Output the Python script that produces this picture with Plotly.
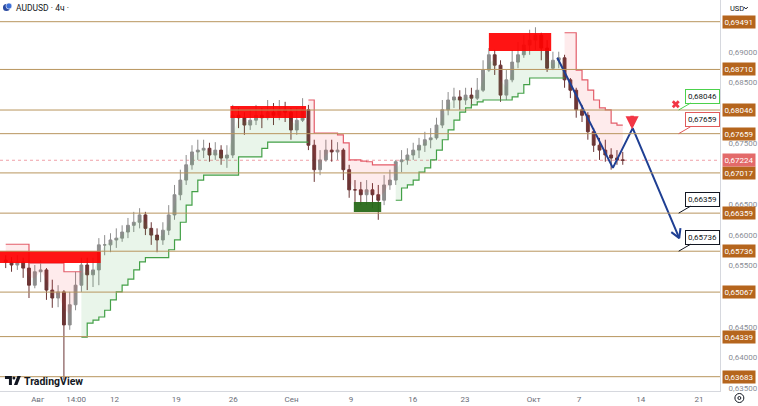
import math
import plotly.graph_objects as go

# ---------------- data (12h candles, index 0 = start of chart) ----------------
first_open = 0.6559
close = [0.6556, 0.6551, 0.6556, 0.6546, 0.6518, 0.6540, 0.6543, 0.6510, 0.6497, 0.6507,
         0.6453, 0.6486, 0.6518, 0.6551, 0.6535, 0.6543, 0.6584, 0.6584, 0.6592, 0.6595,
         0.6605, 0.6616, 0.6621, 0.6633, 0.6611, 0.6600, 0.6592, 0.6608, 0.6633, 0.6666,
         0.6690, 0.6715, 0.6736, 0.6739, 0.6742, 0.6731, 0.6739, 0.6726, 0.6731, 0.6796,
         0.6792, 0.6780, 0.6788, 0.6796, 0.6792, 0.6801, 0.6796, 0.6805, 0.6801, 0.6772,
         0.6788, 0.6805, 0.6747, 0.6707, 0.6723, 0.6739, 0.6736, 0.6739, 0.6707, 0.6674,
         0.6674, 0.6666, 0.6674, 0.6666, 0.6657, 0.6682, 0.6690, 0.6720, 0.6723, 0.6731,
         0.6739, 0.6747, 0.6756, 0.6759, 0.6780, 0.6805, 0.6821, 0.6826, 0.6821, 0.6829,
         0.6824, 0.6837, 0.6870, 0.6895, 0.6878, 0.6829, 0.6854, 0.6883, 0.6895, 0.6911,
         0.6919, 0.6927, 0.6906, 0.6873, 0.6886, 0.6890, 0.6854, 0.6837, 0.6805, 0.6796,
         0.6769, 0.6747, 0.6739, 0.6731, 0.6726, 0.6723, 0.67224]
high = [0.6567, 0.6564, 0.6567, 0.6563, 0.6559, 0.6551, 0.6559, 0.6546, 0.6527, 0.6518,
        0.6510, 0.6507, 0.6540, 0.6563, 0.6563, 0.6563, 0.6595, 0.6600, 0.6603, 0.6611,
        0.6616, 0.6628, 0.6638, 0.6644, 0.6638, 0.6621, 0.6611, 0.6621, 0.6649, 0.6682,
        0.6707, 0.6731, 0.6747, 0.6756, 0.6756, 0.6751, 0.6752, 0.6747, 0.6747, 0.6813,
        0.6808, 0.6801, 0.6805, 0.6813, 0.6808, 0.6821, 0.6816, 0.6821, 0.6818, 0.6808,
        0.6808, 0.6824, 0.6813, 0.6756, 0.6739, 0.6756, 0.6756, 0.6752, 0.6742, 0.6715,
        0.6690, 0.6687, 0.6690, 0.6685, 0.6682, 0.6698, 0.6707, 0.6723, 0.6739, 0.6742,
        0.6751, 0.6759, 0.6769, 0.6775, 0.6792, 0.6821, 0.6834, 0.6841, 0.6837, 0.6841,
        0.6841, 0.6857, 0.6886, 0.6906, 0.6903, 0.6886, 0.6870, 0.6903, 0.6916, 0.6927,
        0.6936, 0.6940, 0.6931, 0.6919, 0.6900, 0.6900, 0.6895, 0.6857, 0.6841, 0.6813,
        0.6801, 0.6775, 0.6759, 0.6756, 0.6742, 0.6739, 0.6736]
low = [0.6546, 0.6540, 0.6543, 0.6530, 0.6497, 0.6513, 0.6523, 0.6494, 0.6481, 0.6482,
       0.6363, 0.6445, 0.6477, 0.6507, 0.6510, 0.6515, 0.6518, 0.6567, 0.6572, 0.6579,
       0.6589, 0.6595, 0.6605, 0.6611, 0.6600, 0.6584, 0.6572, 0.6584, 0.6600, 0.6625,
       0.6657, 0.6682, 0.6707, 0.6723, 0.6726, 0.6720, 0.6723, 0.6715, 0.6710, 0.6726,
       0.6775, 0.6764, 0.6772, 0.6780, 0.6775, 0.6788, 0.6780, 0.6788, 0.6785, 0.6756,
       0.6764, 0.6785, 0.6739, 0.6687, 0.6698, 0.6720, 0.6720, 0.6723, 0.6690, 0.6661,
       0.6649, 0.6649, 0.6649, 0.6644, 0.6625, 0.6649, 0.6674, 0.6682, 0.6703, 0.6715,
       0.6723, 0.6726, 0.6736, 0.6742, 0.6756, 0.6775, 0.6796, 0.6808, 0.6805, 0.6813,
       0.6808, 0.6821, 0.6834, 0.6867, 0.6862, 0.6818, 0.6821, 0.6850, 0.6873, 0.6890,
       0.6895, 0.6903, 0.6886, 0.6867, 0.6870, 0.6873, 0.6841, 0.6824, 0.6792, 0.6785,
       0.6756, 0.6736, 0.6723, 0.6720, 0.6707, 0.6715, 0.6715]

# trailing-stop (supertrend) segments: start index + values
red_1_start = 0
red_1 = [0.6585, 0.6585, 0.6585, 0.6585, 0.6554, 0.6554, 0.6554, 0.6554, 0.6554, 0.6554,
         0.6540, 0.6540, 0.6540, 0.6540]
green_1_start = 13
green_1 = [0.6433, 0.6456, 0.6461, 0.6466, 0.6477, 0.6494, 0.6507, 0.6518, 0.6528, 0.6543,
           0.6556, 0.6563, 0.6563, 0.6563, 0.6563, 0.6576, 0.6592, 0.6621, 0.6649, 0.6671,
           0.6690, 0.6698, 0.6698, 0.6698, 0.6698, 0.6698, 0.6698, 0.6728, 0.6728, 0.6728,
           0.6728, 0.6742, 0.6752, 0.6752, 0.6752, 0.6752, 0.6752, 0.6752, 0.6752, 0.6752]
red_2_start = 52
red_2 = [0.6821, 0.6767, 0.6767, 0.6767, 0.6767, 0.6764, 0.6751, 0.6723, 0.6723, 0.6721,
         0.6720, 0.6715, 0.6715, 0.6715, 0.6715, 0.6715]
green_2_start = 67
green_2 = [0.6657, 0.6677, 0.6682, 0.6690, 0.6703, 0.6710, 0.6723, 0.6739, 0.6756, 0.6772,
           0.6788, 0.6801, 0.6808, 0.6813, 0.6818, 0.6821, 0.6821, 0.6821, 0.6821, 0.6821,
           0.6826, 0.6832, 0.6846, 0.6857, 0.6857, 0.6857, 0.6857, 0.6857, 0.6857, 0.6857]
red_3_start = 96
red_3 = [0.6931, 0.6931, 0.6870, 0.6854, 0.6837, 0.6821, 0.6808, 0.6805, 0.6783, 0.6780,
         0.6780]

levels = [0.69491, 0.68710, 0.68046, 0.67659, 0.67017, 0.66359, 0.65736, 0.65067, 0.64339, 0.63683]
last_price = 0.67224

# zones: (x0 index, x1 index, price low, price high)
supply_zones = [(-1.0, 16.3, 0.65543, 0.65740),
                (38.6, 51.6, 0.67916, 0.68112),
                (83.0, 93.7, 0.69012, 0.69306)]
demand_zones = [(59.8, 64.5, 0.66377, 0.66541)]

# drawn forecast path (index, price)
path_x = [94.75, 104.3, 107.7, 115.7]
path_y = [0.6890, 0.6710, 0.6775, 0.6595]

# callouts (tip index, price, text, border colour)
callout_x = 115.6
callouts = [(0.68046, "0,68046", "#4cd14c"),
            (0.67659, "0,67659", "#e05a5a"),
            (0.66359, "0,66359", "#131722"),
            (0.65736, "0,65736", "#131722")]
sell_arrow = (107.6, 0.6773)
cross_mark = (115.1, 0.6814)

tick_days = [3.0, 6.3, 9.6, 14.9, 19.8, 24.8, 29.9, 35.2, 39.7, 45.6, 49.5, 54.8, 59.8]
tick_labels = ["Авг", "14:00", "12", "19", "26", "Сен", "9", "16", "23", "Окт", "7", "14", "21"]
# price scale marks that are not hidden behind level labels
price_ticks = [0.635, 0.640, 0.645, 0.655, 0.660, 0.665, 0.675, 0.685, 0.690]

# ---------------- figure ----------------
W, H = 758, 406
ML, MR, MT, MB = 0, 33, 0, 15
PW, PH = W - ML - MR, H - MT - MB
X_RANGE = [-0.98, 122.7]
Y_RANGE = [0.63449, 0.69846]
FONT = "Roboto"


def fmt(v):
    return f"{v:.5f}".replace(".", ",")


def px(x):
    return x / PW


def py(y):
    return 1 - y / PH


n = len(close)
idx = list(range(n))
opens = [first_open] + close[:-1]

fig = go.Figure()

segments = [(red_1_start, red_1, "#e35d6a", "rgba(242,54,69,0.10)"),
            (green_1_start, green_1, "#43a047", "rgba(76,175,80,0.12)"),
            (red_2_start, red_2, "#e35d6a", "rgba(242,54,69,0.10)"),
            (green_2_start, green_2, "#43a047", "rgba(76,175,80,0.12)"),
            (red_3_start, red_3, "#e35d6a", "rgba(242,54,69,0.10)")]
for start, vals, col, fcol in segments:
    xs = list(range(start, start + len(vals)))
    mid = [(opens[i] + close[i]) / 2 for i in xs]
    fig.add_trace(go.Scatter(x=xs, y=mid, mode="lines", line=dict(width=0, color=fcol),
                             hoverinfo="skip", showlegend=False))
    fig.add_trace(go.Scatter(x=xs, y=vals, mode="lines", line=dict(width=1.2, color=col, shape="hv"),
                             fill="tonexty", fillcolor=fcol, hoverinfo="skip", showlegend=False))

fig.add_trace(go.Candlestick(
    x=idx, open=opens, high=high, low=low, close=close,
    increasing=dict(line=dict(color="#8e8e8e", width=1), fillcolor="#8e8e8e"),
    decreasing=dict(line=dict(color="#6b3535", width=1), fillcolor="#6b3535"),
    whiskerwidth=0, showlegend=False, hoverinfo="skip"))

# forecast path
fig.add_trace(go.Scatter(x=path_x, y=path_y, mode="lines",
                         line=dict(color="#1f3f93", width=2), hoverinfo="skip", showlegend=False))
# arrow head (open V) at path end, built in pixel space
sx = PW / (X_RANGE[1] - X_RANGE[0])
sy = PH / (Y_RANGE[1] - Y_RANGE[0])
dxp = (path_x[-1] - path_x[-2]) * sx
dyp = -(path_y[-1] - path_y[-2]) * sy
ln = (dxp ** 2 + dyp ** 2) ** 0.5
ux, uy = -dxp / ln, -dyp / ln
wing = []
for ang in (math.radians(30), math.radians(-30)):
    wx = ux * math.cos(ang) - uy * math.sin(ang)
    wy = ux * math.sin(ang) + uy * math.cos(ang)
    wing.append((path_x[-1] + wx * 10 / sx, path_y[-1] - wy * 10 / sy))
fig.add_trace(go.Scatter(x=[wing[0][0], path_x[-1], wing[1][0]],
                         y=[wing[0][1], path_y[-1], wing[1][1]], mode="lines",
                         line=dict(color="#1f3f93", width=2), hoverinfo="skip", showlegend=False))

# cross mark
fig.add_trace(go.Scatter(x=[cross_mark[0]], y=[cross_mark[1]], mode="markers",
                         marker=dict(symbol="x", size=7, color="#f23645", line=dict(width=0)),
                         hoverinfo="skip", showlegend=False))

shapes = []
for x0, x1, p0, p1 in supply_zones:
    shapes.append(dict(type="rect", xref="x", yref="y", x0=x0, x1=x1, y0=p0, y1=p1,
                       fillcolor="rgba(255,0,0,0.92)", line=dict(width=0), layer="above"))
for x0, x1, p0, p1 in demand_zones:
    shapes.append(dict(type="rect", xref="x", yref="y", x0=x0, x1=x1, y0=p0, y1=p1,
                       fillcolor="rgba(40,105,25,0.95)", line=dict(width=0), layer="above"))
for lv in levels:
    shapes.append(dict(type="line", xref="paper", yref="y", x0=0, x1=1, y0=lv, y1=lv,
                       line=dict(color="#b8955e", width=1), layer="above"))
shapes.append(dict(type="line", xref="paper", yref="y", x0=0, x1=1, y0=last_price, y1=last_price,
                   line=dict(color="#f0a0a8", width=1, dash="dot"), layer="below"))
# title icon
shapes.append(dict(type="circle", xref="paper", yref="paper", x0=px(3), x1=px(10), y0=py(11), y1=py(4),
                   fillcolor="#2a4aa0", line=dict(width=0)))
shapes.append(dict(type="circle", xref="paper", yref="paper", x0=px(6), x1=px(12), y0=py(9), y1=py(3),
                   fillcolor="#3c6fd8", line=dict(color="white", width=0.6)))
# TradingView logo
shapes.append(dict(type="path", xref="paper", yref="paper",
                   path=f"M {px(5)} {py(376)} L {px(12)} {py(376)} L {px(12)} {py(385)} L {px(9)} {py(385)} "
                        f"L {px(9)} {py(379)} L {px(5)} {py(379)} Z",
                   fillcolor="#131722", line=dict(width=0)))
shapes.append(dict(type="circle", xref="paper", yref="paper", x0=px(12.5), x1=px(15.5), y0=py(379.5), y1=py(376.5),
                   fillcolor="#131722", line=dict(width=0)))
shapes.append(dict(type="path", xref="paper", yref="paper",
                   path=f"M {px(14)} {py(385)} L {px(17.5)} {py(376)} L {px(21)} {py(376)} L {px(17.5)} {py(385)} Z",
                   fillcolor="#131722", line=dict(width=0)))
# USD chevron
shapes.append(dict(type="path", xref="paper", yref="paper",
                   path=f"M {px(749)} {py(7)} L {px(751)} {py(9)} L {px(753)} {py(7)}",
                   line=dict(color="#131722", width=1)))
# settings icon bottom-right
shapes.append(dict(type="circle", xref="paper", yref="paper", x0=px(740), x1=px(749), y0=py(402.5), y1=py(393.5),
                   line=dict(color="#131722", width=1)))
shapes.append(dict(type="circle", xref="paper", yref="paper", x0=px(743), x1=px(746), y0=py(399.5), y1=py(396.5),
                   line=dict(color="#131722", width=1)))

annotations = []
for lv, txt, col in callouts:
    annotations.append(dict(x=callout_x, y=lv, xref="x", yref="y", text=txt, showarrow=True,
                            ax=24, ay=-14, arrowhead=0, arrowwidth=1, arrowcolor=col,
                            bordercolor=col, borderwidth=1, borderpad=2, bgcolor="white",
                            font=dict(family=FONT, size=8, color="#131722")))
annotations.append(dict(x=sell_arrow[0], y=sell_arrow[1], xref="x", yref="y", text="", showarrow=True,
                        ax=0, ay=-15, arrowhead=2, arrowsize=0.75, arrowwidth=3.5, arrowcolor="#f23645"))
for lv in levels:
    annotations.append(dict(x=1, y=lv, xref="paper", yref="y", xanchor="left", yanchor="middle", xshift=2,
                            text=fmt(lv), showarrow=False, bgcolor="#b5651d", borderpad=1.5,
                            font=dict(family=FONT, size=8, color="white")))
annotations.append(dict(x=1, y=last_price, xref="paper", yref="y", xanchor="left", yanchor="middle", xshift=2,
                        text=fmt(last_price), showarrow=False, bgcolor="#e36a6a", borderpad=1.5,
                        font=dict(family=FONT, size=8, color="white")))
annotations.append(dict(x=px(14), y=py(8), xref="paper", yref="paper", xanchor="left", yanchor="middle",
                        text="AUDUSD · 4ч ·", showarrow=False,
                        font=dict(family=FONT, size=8.5, color="#131722")))
annotations.append(dict(x=px(733), y=py(8), xref="paper", yref="paper", xanchor="left", yanchor="middle",
                        text="USD", showarrow=False, font=dict(family=FONT, size=7.5, color="#131722")))
annotations.append(dict(x=px(22), y=py(381), xref="paper", yref="paper", xanchor="left", yanchor="middle",
                        text="<b>TradingView</b>", showarrow=False,
                        font=dict(family=FONT, size=10.5, color="#131722")))

fig.update_layout(
    width=W, height=H, margin=dict(l=ML, r=MR, t=MT, b=MB),
    paper_bgcolor="white", plot_bgcolor="white", separators=", ",
    showlegend=False, shapes=shapes, annotations=annotations,
    font=dict(family=FONT, size=8, color="#787b86"),
    xaxis=dict(range=X_RANGE, showgrid=False, zeroline=False, rangeslider=dict(visible=False),
               tickmode="array", tickvals=[2 * d - 0.5 for d in tick_days], ticktext=tick_labels,
               tickfont=dict(family=FONT, size=8, color="#6a6d78"), ticks="", ticklen=0,
               showline=True, linecolor="#d6d8de", linewidth=1, fixedrange=True),
    yaxis=dict(range=Y_RANGE, side="right", showgrid=False, zeroline=False,
               tickmode="array", tickvals=price_ticks, ticktext=[fmt(v) for v in price_ticks],
               tickfont=dict(family=FONT, size=8, color="#8a8d96"), ticks="", ticklabelstandoff=6,
               showline=True, linecolor="#d6d8de", linewidth=1, fixedrange=True),
)

fig.write_html("out.html", config={"displayModeBar": False},
               post_script="document.body.style.margin='0';document.body.style.overflow='hidden';")
